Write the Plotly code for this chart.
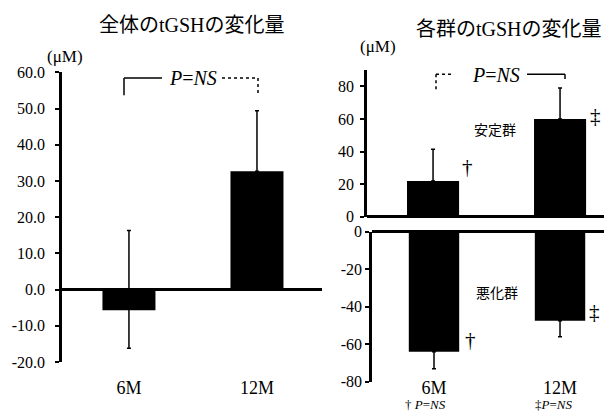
import plotly.graph_objects as go

# ---------------- data ----------------
categories = ["6M", "12M"]

# 全体のtGSHの変化量 (left panel)
total_change = [-5.7, 32.7]
total_err_plus = [22.0, 16.7]
total_err_minus = [10.5, 0.0]

# 各群: 安定群 (stable group, upper right)
stable_change = [22.0, 60.0]
stable_err = [19.5, 19.0]

# 各群: 悪化群 (worsened group, lower right)
worse_change = [-64.1, -47.6]
worse_err = [9.1, 8.5]

left_ticks = [-20, -10, 0, 10, 20, 30, 40, 50, 60]
left_ticktext = ["-20.0", "-10.0", "0.0", "10.0", "20.0", "30.0", "40.0", "50.0", "60.0"]
upper_ticks = [0, 20, 40, 60, 80]
upper_ticktext = ["0", "20", "40", "60", "80"]
lower_ticks = [-80, -60, -40, -20, 0]
lower_ticktext = ["-80", "-60", "-40", "-20", "0"]

# ---------------- layout helpers ----------------
W, H = 604, 420
SERIF = "Liberation Serif, Times New Roman, serif"
CJK = "Liberation Serif, Noto Sans CJK JP, serif"


def fx(px):
    return px / W


def fy(py):
    return 1 - py / H


fig = go.Figure()

err_style = dict(color="black", thickness=1.5, width=2)

fig.add_trace(go.Bar(
    x=categories, y=total_change, width=0.414,
    marker=dict(color="black", line=dict(width=0)),
    error_y=dict(type="data", symmetric=False, array=total_err_plus,
                 arrayminus=total_err_minus, **err_style),
    xaxis="x", yaxis="y", showlegend=False,
))
fig.add_trace(go.Bar(
    x=categories, y=stable_change, width=0.41,
    marker=dict(color="black", line=dict(width=0)),
    error_y=dict(type="data", symmetric=False, array=stable_err,
                 arrayminus=[0, 0], **err_style),
    xaxis="x2", yaxis="y2", showlegend=False,
))
fig.add_trace(go.Bar(
    x=categories, y=worse_change, width=0.40,
    marker=dict(color="black", line=dict(width=0)),
    error_y=dict(type="data", symmetric=False, array=[0, 0],
                 arrayminus=worse_err, **err_style),
    xaxis="x3", yaxis="y3", showlegend=False,
))

yaxis_common = dict(
    showgrid=False, showline=True, linecolor="black", linewidth=2.5,
    ticks="outside", ticklen=4, tickwidth=2, tickcolor="black",
    tickfont=dict(family=SERIF, size=16, color="black"),
    zeroline=True, zerolinecolor="black", zerolinewidth=2.5,
    fixedrange=True,
)
xaxis_common = dict(
    showgrid=False, showline=False, zeroline=False, ticks="",
    tickfont=dict(family=SERIF, size=18, color="black"),
    fixedrange=True,
)

fig.update_layout(
    width=W, height=H,
    margin=dict(l=0, r=0, t=0, b=0),
    paper_bgcolor="white", plot_bgcolor="rgba(0,0,0,0)",
    bargap=0.5,
    xaxis=dict(domain=[fx(62), fx(322)], range=[-0.523, 1.508],
               anchor="free", position=fy(383), **xaxis_common),
    yaxis=dict(domain=[fy(369), fy(67)], range=[-20, 60],
               tickvals=left_ticks, ticktext=left_ticktext,
               ticklabelstandoff=7, anchor="x", **yaxis_common),
    xaxis2=dict(domain=[fx(367), fx(604)], range=[-0.520, 1.346],
                anchor="y2", showticklabels=False, **xaxis_common),
    yaxis2=dict(domain=[fy(217.5), fy(65)], range=[0, 89.9],
                tickvals=upper_ticks, ticktext=upper_ticktext,
                ticklabelstandoff=3, anchor="x2", **yaxis_common),
    xaxis3=dict(domain=[fx(372), fx(604)], range=[-0.492, 1.349],
                anchor="free", position=fy(382), **xaxis_common),
    yaxis3=dict(domain=[fy(389.3), fy(233)], range=[-80, 0],
                tickvals=lower_ticks, ticktext=lower_ticktext,
                anchor="x3", **yaxis_common),
)

# ---------------- brackets ----------------
def seg(x0, y0, x1, y1, dash="solid"):
    fig.add_shape(type="line", xref="paper", yref="paper",
                  x0=fx(x0), y0=fy(y0), x1=fx(x1), y1=fy(y1),
                  line=dict(color="black", width=1.5, dash=dash))

# left panel bracket
seg(124, 73, 124, 91)
seg(124, 73, 162, 73)
seg(222, 73, 258, 73, "dot")
seg(258, 73, 258, 90, "dot")
# right panel bracket
seg(436, 69, 436, 87, "dot")
seg(436, 69, 453, 69, "dot")
seg(527, 69, 565, 69)
seg(565, 69, 565, 74)

annotations = [
    dict(text="全体のtGSHの変化量", x=fx(192), y=fy(18), size=20, fam=CJK),
    dict(text="各群のtGSHの変化量", x=fx(509), y=fy(22), size=20, fam=CJK),
    dict(text="(μM)", x=fx(65), y=fy(51), size=17, fam=SERIF),
    dict(text="(μM)", x=fx(378), y=fy(40), size=17, fam=SERIF),
    dict(text="<i>P</i>=<i>NS</i>", x=fx(193), y=fy(73), size=20, fam=SERIF),
    dict(text="<i>P</i>=<i>NS</i>", x=fx(496), y=fy(70), size=20, fam=SERIF),
    dict(text="安定群", x=fx(495), y=fy(128), size=14, fam=CJK),
    dict(text="悪化群", x=fx(497), y=fy(298), size=14, fam=CJK),
    dict(text="†", x=fx(467), y=fy(166), size=21, fam=SERIF),
    dict(text="‡", x=fx(595), y=fy(113), size=21, fam=SERIF),
    dict(text="†", x=fx(470), y=fy(346), size=21, fam=SERIF),
    dict(text="‡", x=fx(594), y=fy(317), size=21, fam=SERIF),
    dict(text="† <i>P</i>=<i>NS</i>", x=fx(425), y=fy(413), size=13, fam=SERIF),
    dict(text="‡<i>P</i>=<i>NS</i>", x=fx(553), y=fy(413), size=13, fam=SERIF),
]
for a in annotations:
    fig.add_annotation(
        text=a["text"], x=a["x"], y=a["y"], xref="paper", yref="paper",
        showarrow=False, xanchor="center", yanchor="middle", borderpad=0,
        font=dict(family=a["fam"], size=a["size"], color="black"),
    )

fig.write_html(
    "out.html",
    config={"displayModeBar": False},
    post_script="document.body.style.margin='0px';document.body.style.overflow='hidden';",
)
